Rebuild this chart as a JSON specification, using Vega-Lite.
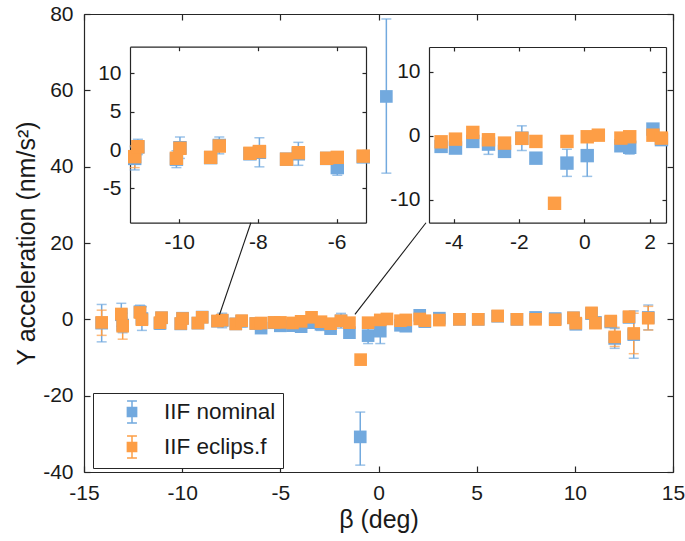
{
  "$schema": "https://vega.github.io/schema/vega-lite/v6.json",
  "width": 589,
  "height": 458,
  "autosize": {"type": "none"},
  "padding": {"left": 84, "top": 14, "right": 12, "bottom": 69},
  "background": "white",
  "config": {
    "font": "Liberation Sans",
    "view": {"stroke": null},
    "axis": {
      "grid": false,
      "domainColor": "#262626",
      "domainWidth": 1.2,
      "tickColor": "#262626",
      "tickWidth": 1.2,
      "labelColor": "#1a1a1a",
      "labelFont": "Liberation Sans",
      "labelFontSize": 21,
      "labelFlush": false,
      "labelOverlap": false,
      "labelBound": false,
      "titleFont": "Liberation Sans",
      "titleFontSize": 25,
      "titleFontWeight": "normal",
      "titleColor": "#1a1a1a"
    }
  },
  "datasets": {
    "pts": [
      {"b": -14.1, "s": "IIF nominal", "v": -1.0, "lo": -5.9, "hi": 3.9},
      {"b": -13.1, "s": "IIF nominal", "v": 1.2, "lo": -1.8, "hi": 4.2},
      {"b": -13.03, "s": "IIF nominal", "v": -1.5, "lo": -3.5, "hi": 0.5},
      {"b": -12.15, "s": "IIF nominal", "v": 2.0, "lo": 0.3, "hi": 3.7},
      {"b": -12.05, "s": "IIF nominal", "v": 0.2, "lo": -2.9, "hi": 3.3},
      {"b": -11.13, "s": "IIF nominal", "v": -1.1, "lo": -2.6, "hi": 0.4},
      {"b": -11.05, "s": "IIF nominal", "v": 0.4, "lo": -0.6, "hi": 1.4},
      {"b": -10.07, "s": "IIF nominal", "v": -1.2, "lo": -2.3, "hi": -0.1},
      {"b": -9.98, "s": "IIF nominal", "v": 0.3, "lo": -1.1, "hi": 1.7},
      {"b": -9.2, "s": "IIF nominal", "v": -1.0, "lo": -1.5, "hi": -0.5},
      {"b": -8.98, "s": "IIF nominal", "v": 0.6, "lo": -0.5, "hi": 1.7},
      {"b": -8.2, "s": "IIF nominal", "v": -0.5, "lo": -1.0, "hi": 0.0},
      {"b": -7.96, "s": "IIF nominal", "v": -0.3, "lo": -2.2, "hi": 1.6},
      {"b": -7.27, "s": "IIF nominal", "v": -1.2, "lo": -1.7, "hi": -0.7},
      {"b": -6.97, "s": "IIF nominal", "v": -0.5, "lo": -2.0, "hi": 1.0},
      {"b": -6.25, "s": "IIF nominal", "v": -1.1, "lo": -1.6, "hi": -0.6},
      {"b": -5.98, "s": "IIF nominal", "v": -2.3, "lo": -3.3, "hi": -1.3},
      {"b": -5.32, "s": "IIF nominal", "v": -0.9, "lo": -1.4, "hi": -0.4},
      {"b": -5.0, "s": "IIF nominal", "v": -1.7, "lo": -2.2, "hi": -1.2},
      {"b": -4.38, "s": "IIF nominal", "v": -1.66, "lo": -2.1, "hi": -1.2},
      {"b": -3.94, "s": "IIF nominal", "v": -1.92, "lo": -2.4, "hi": -1.4},
      {"b": -3.41, "s": "IIF nominal", "v": -0.88, "lo": -1.3, "hi": -0.4},
      {"b": -2.93, "s": "IIF nominal", "v": -1.3, "lo": -2.9, "hi": 0.3},
      {"b": -2.44, "s": "IIF nominal", "v": -2.44, "lo": -2.9, "hi": -2.0},
      {"b": -1.91, "s": "IIF nominal", "v": -0.37, "lo": -2.3, "hi": 1.56},
      {"b": -1.48, "s": "IIF nominal", "v": -3.5, "lo": -4.3, "hi": -2.7},
      {"b": -0.93, "s": "IIF nominal", "v": -30.8, "lo": -38.2, "hi": -24.3},
      {"b": -0.53, "s": "IIF nominal", "v": -4.27, "lo": -6.35, "hi": -2.1},
      {"b": 0.09, "s": "IIF nominal", "v": -3.1, "lo": -6.35, "hi": 0.2},
      {"b": 0.4, "s": "IIF nominal", "v": 58.4, "lo": 38.3, "hi": 78.7},
      {"b": 1.12, "s": "IIF nominal", "v": -1.56, "lo": -2.0, "hi": -1.1},
      {"b": 1.39, "s": "IIF nominal", "v": -1.8, "lo": -2.86, "hi": -0.74},
      {"b": 2.1, "s": "IIF nominal", "v": 1.05, "lo": 0.6, "hi": 1.5},
      {"b": 2.36, "s": "IIF nominal", "v": -0.6, "lo": -1.0, "hi": -0.2},
      {"b": 3.1, "s": "IIF nominal", "v": 0.3, "lo": -0.3, "hi": 0.9},
      {"b": 4.12, "s": "IIF nominal", "v": 0.0, "lo": -0.4, "hi": 0.4},
      {"b": 5.08, "s": "IIF nominal", "v": 0.0, "lo": -0.4, "hi": 0.4},
      {"b": 6.07, "s": "IIF nominal", "v": 0.8, "lo": 0.4, "hi": 1.2},
      {"b": 7.05, "s": "IIF nominal", "v": 0.0, "lo": -0.4, "hi": 0.4},
      {"b": 8.0, "s": "IIF nominal", "v": 0.5, "lo": 0.1, "hi": 0.9},
      {"b": 9.0, "s": "IIF nominal", "v": 0.2, "lo": -0.2, "hi": 0.6},
      {"b": 9.93, "s": "IIF nominal", "v": 0.4, "lo": 0.0, "hi": 0.8},
      {"b": 10.05, "s": "IIF nominal", "v": -1.3, "lo": -1.7, "hi": -0.9},
      {"b": 10.85, "s": "IIF nominal", "v": 1.5, "lo": 1.1, "hi": 1.9},
      {"b": 11.05, "s": "IIF nominal", "v": -0.8, "lo": -1.2, "hi": -0.4},
      {"b": 11.83, "s": "IIF nominal", "v": -0.7, "lo": -1.1, "hi": -0.3},
      {"b": 12.03, "s": "IIF nominal", "v": -5.0, "lo": -7.6, "hi": -2.4},
      {"b": 12.76, "s": "IIF nominal", "v": 0.5, "lo": 0.1, "hi": 0.9},
      {"b": 13.0, "s": "IIF nominal", "v": -4.0, "lo": -10.2, "hi": 2.2},
      {"b": 13.74, "s": "IIF nominal", "v": 0.5, "lo": -2.75, "hi": 3.75},
      {"b": -14.1, "s": "IIF eclips.f", "v": -0.8, "lo": -4.2, "hi": 2.4},
      {"b": -13.1, "s": "IIF eclips.f", "v": 1.4, "lo": 0.9, "hi": 1.9},
      {"b": -13.03, "s": "IIF eclips.f", "v": -1.8, "lo": -5.2, "hi": 1.6},
      {"b": -12.15, "s": "IIF eclips.f", "v": 1.8, "lo": 1.3, "hi": 2.3},
      {"b": -12.05, "s": "IIF eclips.f", "v": -0.1, "lo": -0.6, "hi": 0.4},
      {"b": -11.13, "s": "IIF eclips.f", "v": -0.87, "lo": -2.3, "hi": 0.55},
      {"b": -11.05, "s": "IIF eclips.f", "v": 0.43, "lo": 0.0, "hi": 0.9},
      {"b": -10.07, "s": "IIF eclips.f", "v": -1.08, "lo": -1.5, "hi": -0.6},
      {"b": -9.98, "s": "IIF eclips.f", "v": 0.22, "lo": -0.2, "hi": 0.6},
      {"b": -9.2, "s": "IIF eclips.f", "v": -0.96, "lo": -1.4, "hi": -0.5},
      {"b": -8.98, "s": "IIF eclips.f", "v": 0.52, "lo": 0.1, "hi": 0.9},
      {"b": -8.2, "s": "IIF eclips.f", "v": -0.43, "lo": -0.8, "hi": 0.0},
      {"b": -7.96, "s": "IIF eclips.f", "v": -0.2, "lo": -0.6, "hi": 0.2},
      {"b": -7.27, "s": "IIF eclips.f", "v": -1.2, "lo": -1.6, "hi": -0.8},
      {"b": -6.97, "s": "IIF eclips.f", "v": -0.35, "lo": -0.8, "hi": 0.1},
      {"b": -6.25, "s": "IIF eclips.f", "v": -1.08, "lo": -1.5, "hi": -0.7},
      {"b": -5.98, "s": "IIF eclips.f", "v": -0.96, "lo": -1.4, "hi": -0.5},
      {"b": -5.32, "s": "IIF eclips.f", "v": -0.8, "lo": -1.2, "hi": -0.4},
      {"b": -5.0, "s": "IIF eclips.f", "v": -0.8, "lo": -1.2, "hi": -0.4},
      {"b": -4.38, "s": "IIF eclips.f", "v": -0.94, "lo": -1.4, "hi": -0.5},
      {"b": -3.94, "s": "IIF eclips.f", "v": -0.52, "lo": -0.9, "hi": -0.1},
      {"b": -3.41, "s": "IIF eclips.f", "v": 0.53, "lo": 0.1, "hi": 0.9},
      {"b": -2.93, "s": "IIF eclips.f", "v": -0.62, "lo": -1.0, "hi": -0.2},
      {"b": -2.44, "s": "IIF eclips.f", "v": -1.14, "lo": -1.6, "hi": -0.7},
      {"b": -1.91, "s": "IIF eclips.f", "v": -0.4, "lo": -0.8, "hi": 0.0},
      {"b": -1.48, "s": "IIF eclips.f", "v": -0.88, "lo": -1.3, "hi": -0.4},
      {"b": -0.91, "s": "IIF eclips.f", "v": -10.56, "lo": -11.0, "hi": -10.1},
      {"b": -0.53, "s": "IIF eclips.f", "v": -0.88, "lo": -1.3, "hi": -0.4},
      {"b": 0.09, "s": "IIF eclips.f", "v": -0.15, "lo": -0.6, "hi": 0.3},
      {"b": 0.43, "s": "IIF eclips.f", "v": 0.1, "lo": -0.3, "hi": 0.5},
      {"b": 1.12, "s": "IIF eclips.f", "v": -0.36, "lo": -0.8, "hi": 0.1},
      {"b": 1.39, "s": "IIF eclips.f", "v": -0.15, "lo": -0.6, "hi": 0.3},
      {"b": 2.1, "s": "IIF eclips.f", "v": 0.1, "lo": -0.3, "hi": 0.5},
      {"b": 2.36, "s": "IIF eclips.f", "v": -0.36, "lo": -0.8, "hi": 0.1},
      {"b": 3.1, "s": "IIF eclips.f", "v": -0.2, "lo": -0.6, "hi": 0.2},
      {"b": 4.12, "s": "IIF eclips.f", "v": 0.0, "lo": -0.4, "hi": 0.4},
      {"b": 5.08, "s": "IIF eclips.f", "v": 0.0, "lo": -0.4, "hi": 0.4},
      {"b": 6.07, "s": "IIF eclips.f", "v": 0.9, "lo": 0.5, "hi": 1.3},
      {"b": 7.05, "s": "IIF eclips.f", "v": 0.0, "lo": -0.4, "hi": 0.4},
      {"b": 8.0, "s": "IIF eclips.f", "v": 0.0, "lo": -0.4, "hi": 0.4},
      {"b": 9.0, "s": "IIF eclips.f", "v": -0.1, "lo": -0.5, "hi": 0.3},
      {"b": 9.93, "s": "IIF eclips.f", "v": 0.4, "lo": 0.0, "hi": 0.8},
      {"b": 10.05, "s": "IIF eclips.f", "v": -1.0, "lo": -1.4, "hi": -0.6},
      {"b": 10.85, "s": "IIF eclips.f", "v": 1.7, "lo": 1.3, "hi": 2.1},
      {"b": 11.05, "s": "IIF eclips.f", "v": -1.0, "lo": -1.4, "hi": -0.6},
      {"b": 11.83, "s": "IIF eclips.f", "v": -0.45, "lo": -0.85, "hi": -0.05},
      {"b": 12.03, "s": "IIF eclips.f", "v": -4.6, "lo": -7.1, "hi": -2.1},
      {"b": 12.76, "s": "IIF eclips.f", "v": 0.7, "lo": 0.3, "hi": 1.1},
      {"b": 13.0, "s": "IIF eclips.f", "v": -3.7, "lo": -9.0, "hi": 1.6},
      {"b": 13.74, "s": "IIF eclips.f", "v": 0.3, "lo": -2.8, "hi": 3.4}
    ],
    "conn": [
      {"x1": -6.5, "y1": 25.3, "x2": -8.1, "y2": 1.2},
      {"x1": 2.42, "y1": 25.3, "x2": -1.2, "y2": 1.3}
    ],
    "dummy": [{"a": 0}]
  },
  "resolve": {
    "scale": {"x": "independent", "y": "independent"},
    "axis": {"x": "independent", "y": "independent"}
  },
  "layer": [
    {
      "data": {"name": "pts"},
      "encoding": {
        "x": {"field": "b", "type": "quantitative", "scale": {"domain": [-15, 15], "nice": false, "zero": false},
          "axis": {"orient": "bottom", "values": [-15, -10, -5, 0, 5, 10, 15], "tickSize": -6, "labelPadding": 16, "title": "β (deg)", "titleY": 35, "titleBaseline": "top", "labelExpr": "'' + datum.value"}},
        "color": {"field": "s", "type": "nominal",
          "scale": {"domain": ["IIF nominal", "IIF eclips.f"], "range": ["#72A9DE", "#FD9E46"]},
          "legend": {"orient": "none", "legendX": 9, "legendY": 379, "title": null, "padding": 7,
            "strokeColor": "#262626", "fillColor": "white",
            "symbolType": "M-0.42,-0.42H0.42V0.42H-0.42Z M0,-1V1 M-0.45,-1H0.45 M-0.45,1H0.45",
            "symbolSize": 484, "symbolStrokeWidth": 1.5, "symbolOffset": 20, "labelOffset": 20, "rowPadding": 7,
            "labelFontSize": 22.5, "labelFont": "Liberation Sans", "labelColor": "#1a1a1a", "labelLimit": 300,
            "encode": {"symbols": {"update": {"stroke": {"scale": "color", "field": "value"}, "strokeWidth": {"value": 1.5}}}}}}
      },
      "layer": [
        {"mark": {"type": "rule", "strokeWidth": 1.5},
          "encoding": {"y": {"field": "lo", "type": "quantitative", "scale": {"domain": [-40, 80], "nice": false, "zero": false}}, "y2": {"field": "hi"}}},
        {"mark": {"type": "tick", "orient": "horizontal", "size": 10, "thickness": 1.5},
          "encoding": {"y": {"field": "lo", "type": "quantitative", "scale": {"domain": [-40, 80], "nice": false, "zero": false}}}},
        {"mark": {"type": "tick", "orient": "horizontal", "size": 10, "thickness": 1.5},
          "encoding": {"y": {"field": "hi", "type": "quantitative", "scale": {"domain": [-40, 80], "nice": false, "zero": false}}}},
        {"mark": {"type": "point", "shape": "square", "filled": true, "size": 160, "opacity": 1},
          "encoding": {"y": {"field": "v", "type": "quantitative", "scale": {"domain": [-40, 80], "nice": false, "zero": false},
            "axis": {"orient": "left", "values": [-40, -20, 0, 20, 40, 60, 80], "tickSize": -6, "labelPadding": 17, "title": "Y acceleration (nm/s²)", "titleX": -58, "titleY": 229, "titleBaseline": "middle", "labelExpr": "'' + datum.value"}}}},
        {"data": {"name": "conn"}, "mark": {"type": "rule", "strokeWidth": 1.1},
          "encoding": {
            "x": {"field": "x1", "type": "quantitative", "scale": {"domain": [-15, 15], "nice": false, "zero": false}},
            "x2": {"field": "x2"},
            "y": {"field": "y1", "type": "quantitative", "scale": {"domain": [-40, 80], "nice": false, "zero": false}},
            "y2": {"field": "y2"},
            "color": {"value": "#1a1a1a"}}}
      ]
    },
    {
      "data": {"name": "dummy"},
      "mark": {"type": "point", "opacity": 0},
      "encoding": {
        "x": {"datum": 0, "type": "quantitative", "scale": {"domain": [-15, 15], "nice": false, "zero": false},
          "axis": {"orient": "top", "values": [-15, -10, -5, 0, 5, 10, 15], "tickSize": -6, "labels": false, "title": null}},
        "y": {"datum": 0, "type": "quantitative", "scale": {"domain": [-40, 80], "nice": false, "zero": false},
          "axis": {"orient": "right", "values": [-40, -20, 0, 20, 40, 60, 80], "tickSize": -6, "labels": false, "title": null}}
      }
    },
    {
      "data": {"name": "pts"},
      "transform": [{"filter": "datum.b >= -11.25 && datum.b <= -5.25 && datum.v >= -9.5 && datum.v <= 13.5"}],
      "encoding": {
        "x": {"field": "b", "type": "quantitative", "scale": {"domain": [-11.25, -5.25], "range": [46, 282], "nice": false, "zero": false},
          "axis": {"orient": "bottom", "offset": -249.3, "values": [-10, -8, -6], "tickSize": -4, "labelPadding": 13, "title": null, "labelExpr": "'' + datum.value"}},
        "color": {"field": "s", "type": "nominal", "scale": {"domain": ["IIF nominal", "IIF eclips.f"], "range": ["#72A9DE", "#FD9E46"]}}
      },
      "layer": [
        {"mark": {"type": "rule", "strokeWidth": 1.5},
          "encoding": {"y": {"field": "lo", "type": "quantitative", "scale": {"domain": [-9.5, 13.5], "range": [208.7, 32.7], "nice": false, "zero": false}}, "y2": {"field": "hi"}}},
        {"mark": {"type": "tick", "orient": "horizontal", "size": 10, "thickness": 1.5},
          "encoding": {"y": {"field": "lo", "type": "quantitative", "scale": {"domain": [-9.5, 13.5], "range": [208.7, 32.7], "nice": false, "zero": false}}}},
        {"mark": {"type": "tick", "orient": "horizontal", "size": 10, "thickness": 1.5},
          "encoding": {"y": {"field": "hi", "type": "quantitative", "scale": {"domain": [-9.5, 13.5], "range": [208.7, 32.7], "nice": false, "zero": false}}}},
        {"mark": {"type": "point", "shape": "square", "filled": true, "size": 180, "opacity": 1},
          "encoding": {"y": {"field": "v", "type": "quantitative", "scale": {"domain": [-9.5, 13.5], "range": [208.7, 32.7], "nice": false, "zero": false},
            "axis": {"orient": "left", "offset": -46, "values": [-5, 0, 5, 10], "tickSize": -4, "labelPadding": 13, "title": null, "labelExpr": "'' + datum.value"}}}}
      ]
    },
    {
      "data": {"name": "dummy"},
      "mark": {"type": "point", "opacity": 0},
      "encoding": {
        "x": {"datum": -8, "type": "quantitative", "scale": {"domain": [-11.25, -5.25], "range": [46, 282], "nice": false, "zero": false},
          "axis": {"orient": "top", "offset": -32.7, "values": [-10, -8, -6], "tickSize": -4, "labels": false, "title": null}},
        "y": {"datum": 0, "type": "quantitative", "scale": {"domain": [-9.5, 13.5], "range": [208.7, 32.7], "nice": false, "zero": false},
          "axis": {"orient": "right", "offset": -307, "values": [-5, 0, 5, 10], "tickSize": -4, "labels": false, "title": null}}
      }
    },
    {
      "data": {"name": "pts"},
      "transform": [{"filter": "datum.b >= -4.75 && datum.b <= 2.5 && datum.v >= -13.6 && datum.v <= 13.9"}],
      "encoding": {
        "x": {"field": "b", "type": "quantitative", "scale": {"domain": [-4.75, 2.5], "range": [345, 582], "nice": false, "zero": false},
          "axis": {"orient": "bottom", "offset": -249.3, "values": [-4, -2, 0, 2], "tickSize": -4, "labelPadding": 13, "title": null, "labelExpr": "'' + datum.value"}},
        "color": {"field": "s", "type": "nominal", "scale": {"domain": ["IIF nominal", "IIF eclips.f"], "range": ["#72A9DE", "#FD9E46"]}}
      },
      "layer": [
        {"mark": {"type": "rule", "strokeWidth": 1.5},
          "encoding": {"y": {"field": "lo", "type": "quantitative", "scale": {"domain": [-13.6, 13.9], "range": [208.7, 33], "nice": false, "zero": false}}, "y2": {"field": "hi"}}},
        {"mark": {"type": "tick", "orient": "horizontal", "size": 10, "thickness": 1.5},
          "encoding": {"y": {"field": "lo", "type": "quantitative", "scale": {"domain": [-13.6, 13.9], "range": [208.7, 33], "nice": false, "zero": false}}}},
        {"mark": {"type": "tick", "orient": "horizontal", "size": 10, "thickness": 1.5},
          "encoding": {"y": {"field": "hi", "type": "quantitative", "scale": {"domain": [-13.6, 13.9], "range": [208.7, 33], "nice": false, "zero": false}}}},
        {"mark": {"type": "point", "shape": "square", "filled": true, "size": 180, "opacity": 1},
          "encoding": {"y": {"field": "v", "type": "quantitative", "scale": {"domain": [-13.6, 13.9], "range": [208.7, 33], "nice": false, "zero": false},
            "axis": {"orient": "left", "offset": -345, "values": [-10, 0, 10], "tickSize": -4, "labelPadding": 13, "title": null, "labelExpr": "'' + datum.value"}}}}
      ]
    },
    {
      "data": {"name": "dummy"},
      "mark": {"type": "point", "opacity": 0},
      "encoding": {
        "x": {"datum": 0, "type": "quantitative", "scale": {"domain": [-4.75, 2.5], "range": [345, 582], "nice": false, "zero": false},
          "axis": {"orient": "top", "offset": -33, "values": [-4, -2, 0, 2], "tickSize": -4, "labels": false, "title": null}},
        "y": {"datum": 0, "type": "quantitative", "scale": {"domain": [-13.6, 13.9], "range": [208.7, 33], "nice": false, "zero": false},
          "axis": {"orient": "right", "offset": -7, "values": [-10, 0, 10], "tickSize": -4, "labels": false, "title": null}}
      }
    }
  ]
}
